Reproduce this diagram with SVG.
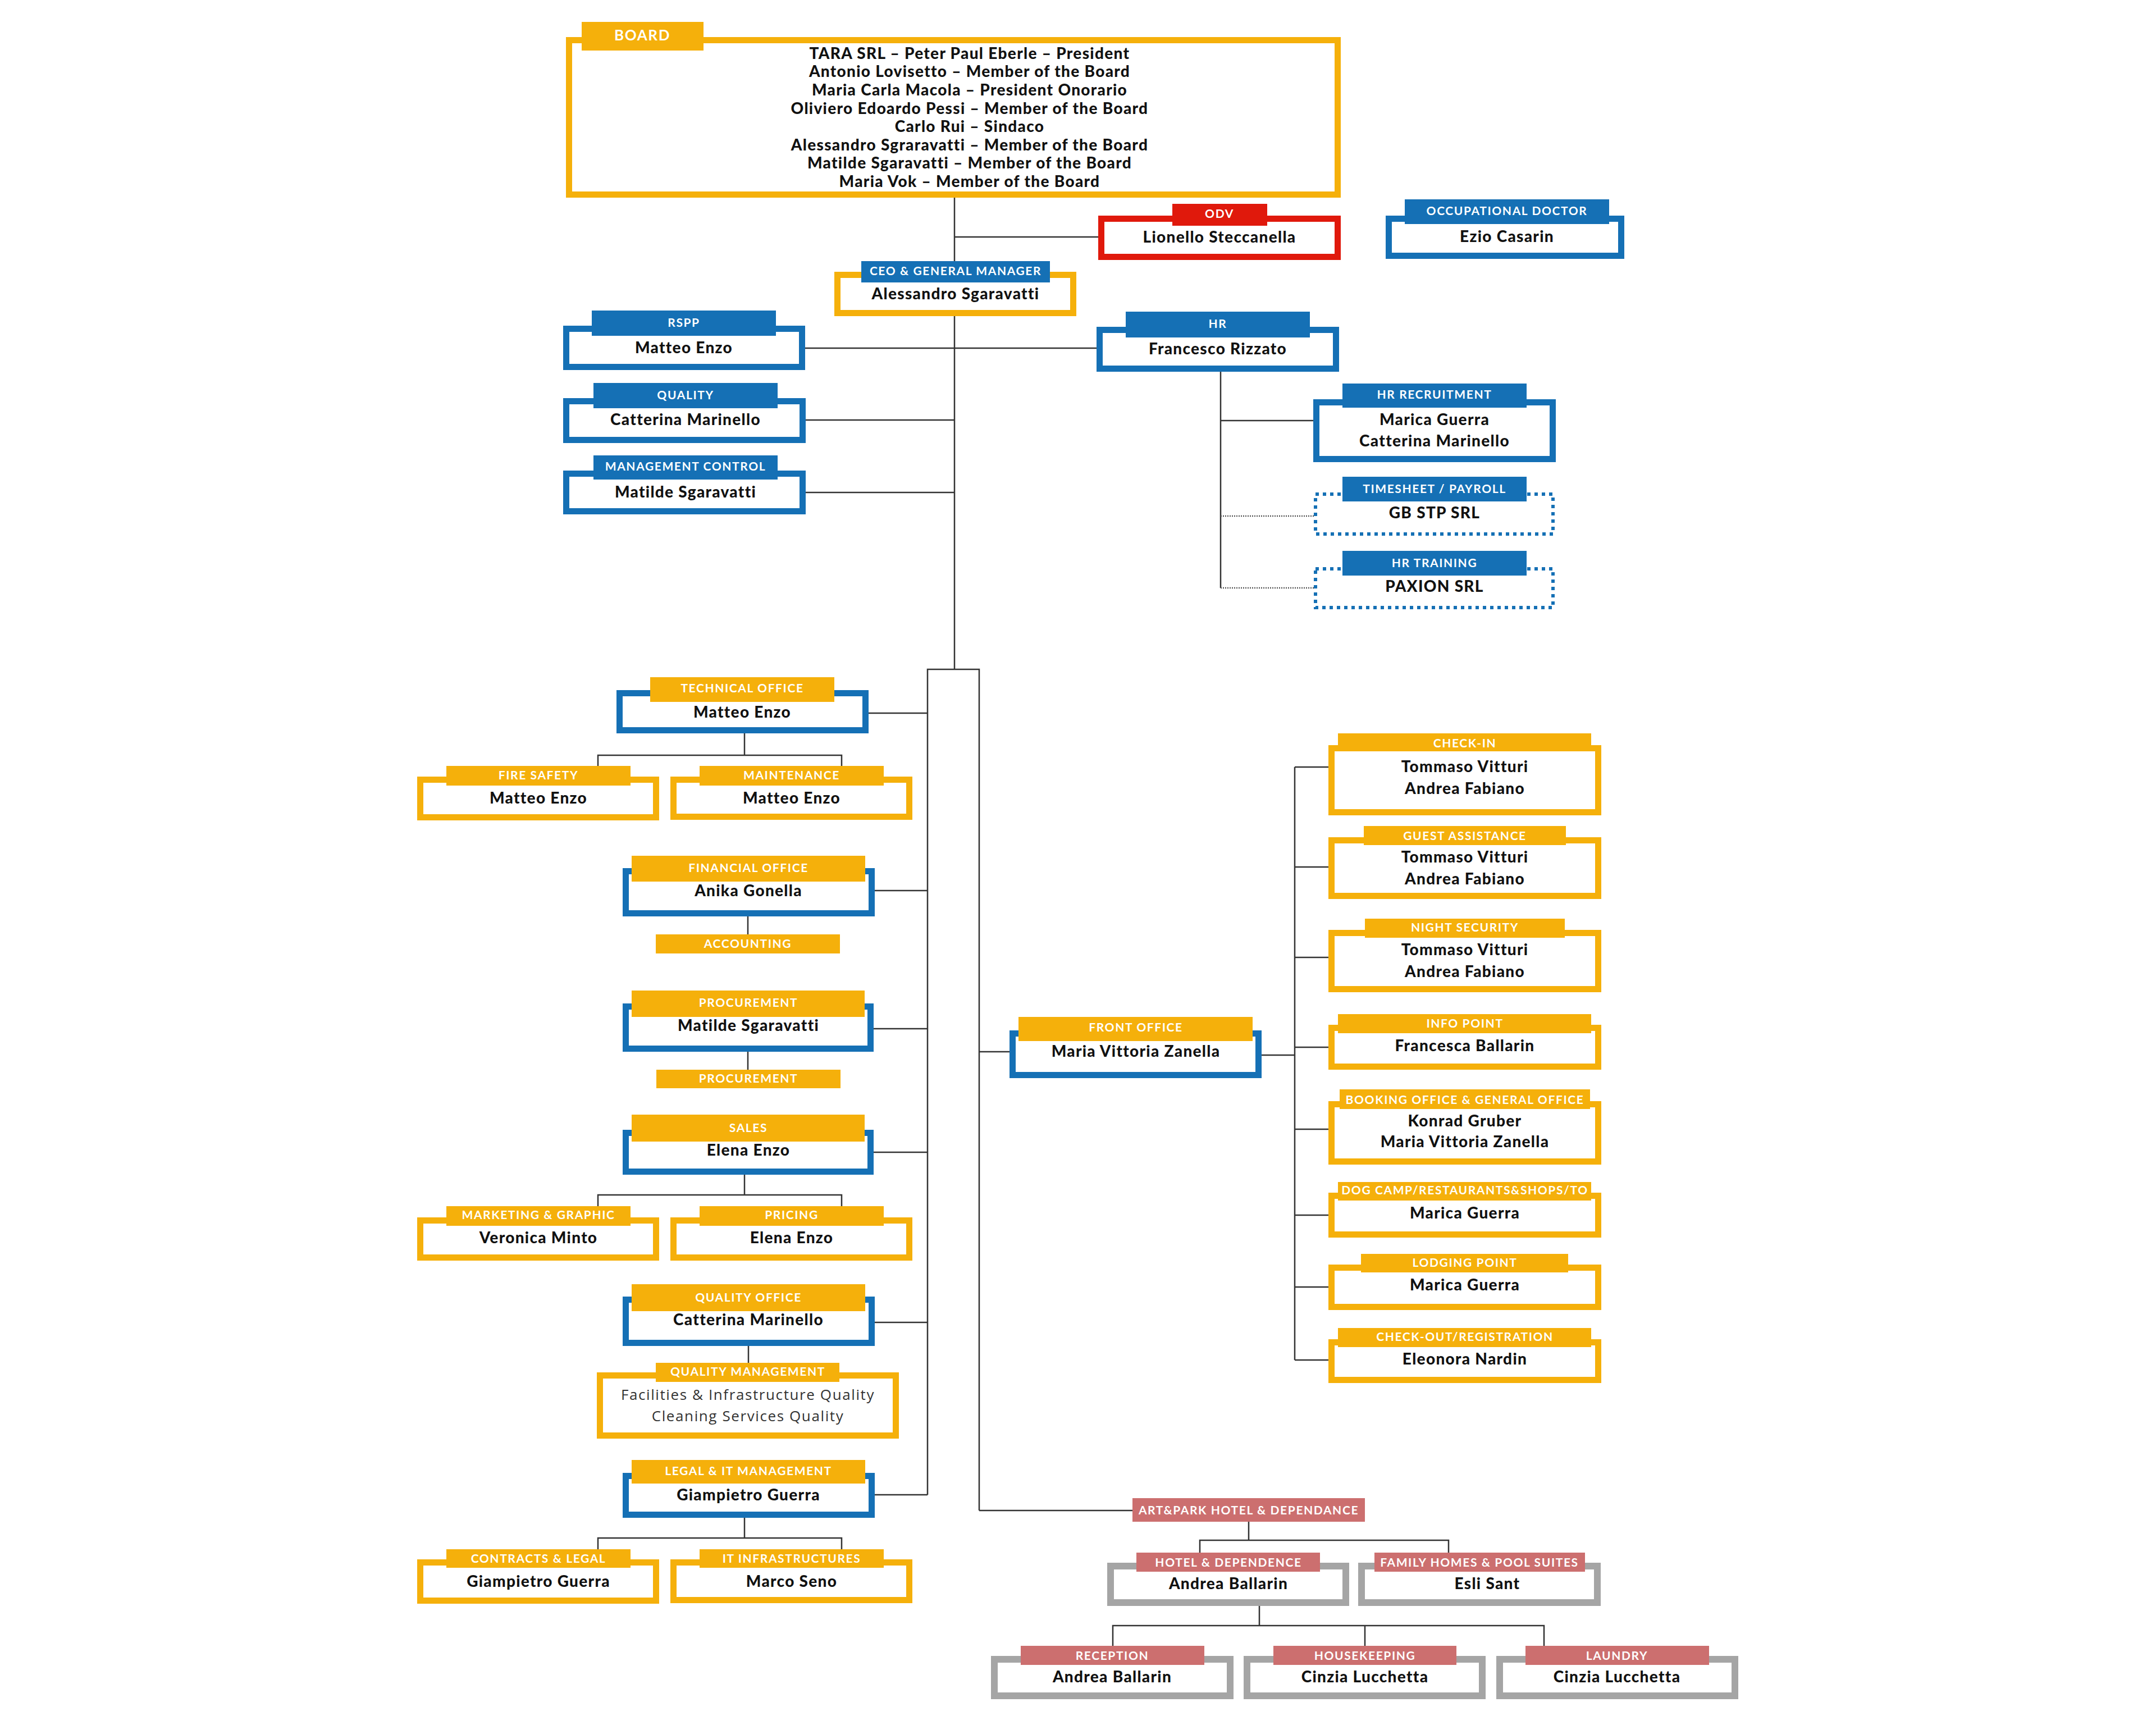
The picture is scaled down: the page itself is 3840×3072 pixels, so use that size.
<svg xmlns="http://www.w3.org/2000/svg" width="3840" height="3072" viewBox="0 0 3840 3072">
<style>
text{font-family:"Lato","Open Sans",sans-serif;text-anchor:middle}
.b{fill:#fff;stroke-width:11}
.by{stroke:#F5B00B}.bb{stroke:#1570B5}.br{stroke:#E0190C}
.bg{stroke:#A5A5A5;stroke-width:12}
.bd{fill:#fff;stroke:#1570B5;stroke-width:6;stroke-dasharray:6 7}
.hy{fill:#F5B00B}.hb{fill:#1570B5}.hr{fill:#E0190C}.hp{fill:#CC6F6F}
.ht{fill:#fff;font-weight:700;font-size:21px;letter-spacing:1.6px}
.nm{fill:#111;font-weight:900;font-size:28px;letter-spacing:1.3px}
.rg{fill:#333;font-family:"Open Sans",sans-serif;font-weight:400;font-size:26px;letter-spacing:1.6px}
.c{fill:none;stroke:#333;stroke-width:2.5}
.cd{fill:none;stroke:#555;stroke-width:2.5;stroke-dasharray:2 2}
</style>
<rect width="3840" height="3072" fill="#fff"/>
<g id="connectors">
<path class="c" d="M1700 352V484M1700 422H1956M1700 563V1192M1434 620H1953M1435 748H1700M1435 877H1700"/>
<path class="c" d="M2174 662V1047M2174 749H2339"/>
<path class="cd" d="M2174 919H2340M2174 1047H2340"/>
<path class="c" d="M1652 2662V1192H1744V2690"/>
<path class="c" d="M1547 1270H1652M1558 1586H1652M1556 1832H1652M1556 2052H1652M1558 2355H1652M1558 2662H1652"/>
<path class="c" d="M1326 1306V1345M1065 1364V1345H1499V1364"/>
<path class="c" d="M1332 1632V1664M1332 1873V1905M1333 2397V2427"/>
<path class="c" d="M1326 2092V2128M1065 2148V2128H1499V2148"/>
<path class="c" d="M1326 2703V2739M1065 2759V2739H1499V2759"/>
<path class="c" d="M1744 1873H1798M2247 1879H2306M2306 1366V2422"/>
<path class="c" d="M2306 1366H2366M2306 1544H2366M2306 1705H2366M2306 1865H2366M2306 2011H2366M2306 2164H2366M2306 2292H2366M2306 2422H2366"/>
<path class="c" d="M1744 2690H2017M2224 2710V2743M2137 2765V2743H2580V2765"/>
<path class="c" d="M2243 2860V2895M1982 2931V2895H2750V2931M2431 2895V2931"/>
</g>
<g id="n-board">
<rect class="b by" x="1013.5" y="71.5" width="1369" height="275"/>
<rect class="hy" x="1036" y="39" width="217" height="51"/>
<text class="ht" style="font-size:26px" x="1144" y="72">BOARD</text>
<text class="nm" x="1727" y="105">TARA SRL – Peter Paul Eberle – President</text>
<text class="nm" x="1727" y="137">Antonio Lovisetto – Member of the Board</text>
<text class="nm" x="1727" y="170">Maria Carla Macola – President Onorario</text>
<text class="nm" x="1727" y="203">Oliviero Edoardo Pessi – Member of the Board</text>
<text class="nm" x="1727" y="235">Carlo Rui – Sindaco</text>
<text class="nm" x="1727" y="268">Alessandro Sgraravatti – Member of the Board</text>
<text class="nm" x="1727" y="300">Matilde Sgaravatti – Member of the Board</text>
<text class="nm" x="1727" y="333">Maria Vok – Member of the Board</text>
</g>
<g id="n-odv">
<rect class="b br" x="1961.5" y="389.5" width="421" height="68"/>
<rect class="hr" x="2088" y="363" width="169" height="39"/>
<text class="ht" x="2172" y="387.5">ODV</text>
<text class="nm" x="2172" y="432">Lionello Steccanella</text>
</g>
<g id="n-occ">
<rect class="b bb" x="2473.5" y="389.5" width="414" height="66"/>
<rect class="hb" x="2502" y="355" width="364" height="44"/>
<text class="ht" x="2684" y="382.5">OCCUPATIONAL DOCTOR</text>
<text class="nm" x="2684" y="431">Ezio Casarin</text>
</g>
<g id="n-ceo">
<rect class="b by" x="1491.5" y="489.5" width="420" height="68"/>
<rect class="hb" x="1534" y="465" width="336" height="38"/>
<text class="ht" x="1702" y="489.5">CEO &amp; GENERAL MANAGER</text>
<text class="nm" x="1702" y="533">Alessandro Sgaravatti</text>
</g>
<g id="n-rspp">
<rect class="b bb" x="1008.5" y="585.5" width="420" height="68"/>
<rect class="hb" x="1054" y="553" width="328" height="45"/>
<text class="ht" x="1218" y="581.5">RSPP</text>
<text class="nm" x="1218" y="629">Matteo Enzo</text>
</g>
<g id="n-hr">
<rect class="b bb" x="1958.5" y="587.5" width="421" height="69"/>
<rect class="hb" x="2005" y="555" width="328" height="46"/>
<text class="ht" x="2169" y="583.5">HR</text>
<text class="nm" x="2169" y="631">Francesco Rizzato</text>
</g>
<g id="n-quality">
<rect class="b bb" x="1008.5" y="714.5" width="421" height="69"/>
<rect class="hb" x="1057" y="682" width="328" height="45"/>
<text class="ht" x="1221" y="710.5">QUALITY</text>
<text class="nm" x="1221" y="757">Catterina Marinello</text>
</g>
<g id="n-mgmt">
<rect class="b bb" x="1008.5" y="843.5" width="421" height="67"/>
<rect class="hb" x="1057" y="811" width="328" height="43"/>
<text class="ht" x="1221" y="837.5">MANAGEMENT CONTROL</text>
<text class="nm" x="1221" y="886">Matilde Sgaravatti</text>
</g>
<g id="n-hrrec">
<rect class="b bb" x="2344.5" y="716.5" width="421" height="101"/>
<rect class="hb" x="2391" y="683" width="328" height="43"/>
<text class="ht" x="2555" y="709.5">HR RECRUITMENT</text>
<text class="nm" x="2555" y="757">Marica Guerra</text>
<text class="nm" x="2555" y="795">Catterina Marinello</text>
</g>
<g id="n-timesheet">
<rect class="bd" x="2343" y="880" width="423" height="71"/>
<rect class="hb" x="2391" y="849" width="328" height="44"/>
<text class="ht" x="2555" y="877.5">TIMESHEET / PAYROLL</text>
<text class="nm" x="2555" y="923">GB STP SRL</text>
</g>
<g id="n-hrtrain">
<rect class="bd" x="2343" y="1013" width="423" height="69"/>
<rect class="hb" x="2391" y="981" width="328" height="44"/>
<text class="ht" x="2555" y="1009.5">HR TRAINING</text>
<text class="nm" x="2555" y="1054">PAXION SRL</text>
</g>
<g id="n-tech">
<rect class="b bb" x="1103.5" y="1234.5" width="438" height="66"/>
<rect class="hy" x="1158" y="1206" width="328" height="44"/>
<text class="ht" x="1322" y="1232.5">TECHNICAL OFFICE</text>
<text class="nm" x="1322" y="1278">Matteo Enzo</text>
</g>
<g id="n-fire">
<rect class="b by" x="748.5" y="1388.5" width="420" height="67"/>
<rect class="hy" x="795" y="1364" width="328" height="35"/>
<text class="ht" x="959" y="1388">FIRE SAFETY</text>
<text class="nm" x="959" y="1431">Matteo Enzo</text>
</g>
<g id="n-maint">
<rect class="b by" x="1199.5" y="1388.5" width="420" height="66"/>
<rect class="hy" x="1246" y="1364" width="328" height="35"/>
<text class="ht" x="1410" y="1388">MAINTENANCE</text>
<text class="nm" x="1410" y="1431">Matteo Enzo</text>
</g>
<g id="n-fin">
<rect class="b bb" x="1114.5" y="1551.5" width="438" height="75"/>
<rect class="hy" x="1125" y="1524" width="416" height="46"/>
<text class="ht" x="1333" y="1552.5">FINANCIAL OFFICE</text>
<text class="nm" x="1333" y="1596">Anika Gonella</text>
</g>
<g id="n-accounting">
<rect class="hy" x="1168" y="1664" width="328" height="34"/>
<text class="ht" x="1332" y="1687.5">ACCOUNTING</text>
</g>
<g id="n-proc">
<rect class="b bb" x="1114.5" y="1792.5" width="436" height="75"/>
<rect class="hy" x="1125" y="1764" width="415" height="47"/>
<text class="ht" x="1333" y="1792.5">PROCUREMENT</text>
<text class="nm" x="1333" y="1836">Matilde Sgaravatti</text>
</g>
<g id="n-proctab">
<rect class="hy" x="1169" y="1905" width="328" height="33"/>
<text class="ht" x="1333" y="1927.5">PROCUREMENT</text>
</g>
<g id="n-sales">
<rect class="b bb" x="1114.5" y="2017.5" width="436" height="69"/>
<rect class="hy" x="1125" y="1985" width="415" height="48"/>
<text class="ht" x="1333" y="2015.5">SALES</text>
<text class="nm" x="1333" y="2058">Elena Enzo</text>
</g>
<g id="n-mkt">
<rect class="b by" x="748.5" y="2173.5" width="420" height="66"/>
<rect class="hy" x="795" y="2148" width="328" height="35"/>
<text class="ht" x="959" y="2170.5">MARKETING &amp; GRAPHIC</text>
<text class="nm" x="959" y="2214">Veronica Minto</text>
</g>
<g id="n-pricing">
<rect class="b by" x="1199.5" y="2173.5" width="420" height="66"/>
<rect class="hy" x="1246" y="2148" width="328" height="35"/>
<text class="ht" x="1410" y="2170.5">PRICING</text>
<text class="nm" x="1410" y="2214">Elena Enzo</text>
</g>
<g id="n-qoffice">
<rect class="b bb" x="1114.5" y="2314.5" width="438" height="77"/>
<rect class="hy" x="1125" y="2287" width="416" height="48"/>
<text class="ht" x="1333" y="2317.5">QUALITY OFFICE</text>
<text class="nm" x="1333" y="2360">Catterina Marinello</text>
</g>
<g id="n-qm">
<rect class="b by" x="1068.5" y="2449.5" width="527" height="107"/>
<rect class="hy" x="1168" y="2427" width="327" height="34"/>
<text class="ht" x="1332" y="2449.5">QUALITY MANAGEMENT</text>
<text class="rg" x="1332" y="2493">Facilities &amp; Infrastructure Quality</text>
<text class="rg" x="1332" y="2531">Cleaning Services Quality</text>
</g>
<g id="n-legal">
<rect class="b bb" x="1114.5" y="2628.5" width="438" height="69"/>
<rect class="hy" x="1125" y="2600" width="416" height="42"/>
<text class="ht" x="1333" y="2626.5">LEGAL &amp; IT MANAGEMENT</text>
<text class="nm" x="1333" y="2672">Giampietro Guerra</text>
</g>
<g id="n-contracts">
<rect class="b by" x="748.5" y="2782.5" width="420" height="68"/>
<rect class="hy" x="795" y="2759" width="328" height="33"/>
<text class="ht" x="959" y="2782.5">CONTRACTS &amp; LEGAL</text>
<text class="nm" x="959" y="2826">Giampietro Guerra</text>
</g>
<g id="n-itinfra">
<rect class="b by" x="1199.5" y="2782.5" width="420" height="67"/>
<rect class="hy" x="1246" y="2759" width="328" height="33"/>
<text class="ht" x="1410" y="2782.5">IT INFRASTRUCTURES</text>
<text class="nm" x="1410" y="2826">Marco Seno</text>
</g>
<g id="n-front">
<rect class="b bb" x="1803.5" y="1840.5" width="438" height="74"/>
<rect class="hy" x="1814" y="1811" width="417" height="43"/>
<text class="ht" x="2023" y="1836.5">FRONT OFFICE</text>
<text class="nm" x="2023" y="1882">Maria Vittoria Zanella</text>
</g>
<g id="n-checkin">
<rect class="b by" x="2371.5" y="1332.5" width="475" height="114"/>
<rect class="hy" x="2383" y="1306" width="451" height="32"/>
<text class="ht" x="2609" y="1330.5">CHECK-IN</text>
<text class="nm" x="2609" y="1375">Tommaso Vitturi</text>
<text class="nm" x="2609" y="1414">Andrea Fabiano</text>
</g>
<g id="n-guest">
<rect class="b by" x="2371.5" y="1496.5" width="475" height="99"/>
<rect class="hy" x="2429" y="1471" width="360" height="34"/>
<text class="ht" x="2609" y="1495.5">GUEST ASSISTANCE</text>
<text class="nm" x="2609" y="1536">Tommaso Vitturi</text>
<text class="nm" x="2609" y="1575">Andrea Fabiano</text>
</g>
<g id="n-night">
<rect class="b by" x="2371.5" y="1661.5" width="475" height="100"/>
<rect class="hy" x="2431" y="1636" width="356" height="34"/>
<text class="ht" x="2609" y="1658.5">NIGHT SECURITY</text>
<text class="nm" x="2609" y="1701">Tommaso Vitturi</text>
<text class="nm" x="2609" y="1740">Andrea Fabiano</text>
</g>
<g id="n-info">
<rect class="b by" x="2371.5" y="1830.5" width="475" height="69"/>
<rect class="hy" x="2383" y="1806" width="451" height="34"/>
<text class="ht" x="2609" y="1829.5">INFO POINT</text>
<text class="nm" x="2609" y="1872">Francesca Ballarin</text>
</g>
<g id="n-booking">
<rect class="b by" x="2371.5" y="1966.5" width="475" height="102"/>
<rect class="hy" x="2386" y="1940" width="446" height="35"/>
<text class="ht" x="2609" y="1965.5">BOOKING OFFICE &amp; GENERAL OFFICE</text>
<text class="nm" x="2609" y="2006">Konrad Gruber</text>
<text class="nm" x="2609" y="2043">Maria Vittoria Zanella</text>
</g>
<g id="n-dog">
<rect class="b by" x="2371.5" y="2129.5" width="475" height="69"/>
<rect class="hy" x="2383" y="2105" width="451" height="33"/>
<text class="ht" x="2609" y="2126.5">DOG CAMP/RESTAURANTS&amp;SHOPS/TO</text>
<text class="nm" x="2609" y="2170">Marica Guerra</text>
</g>
<g id="n-lodging">
<rect class="b by" x="2371.5" y="2257.5" width="475" height="70"/>
<rect class="hy" x="2424" y="2233" width="369" height="33"/>
<text class="ht" x="2609" y="2255.5">LODGING POINT</text>
<text class="nm" x="2609" y="2298">Marica Guerra</text>
</g>
<g id="n-checkout">
<rect class="b by" x="2371.5" y="2390.5" width="475" height="67"/>
<rect class="hy" x="2383" y="2365" width="451" height="34"/>
<text class="ht" x="2609" y="2387.5">CHECK-OUT/REGISTRATION</text>
<text class="nm" x="2609" y="2430">Eleonora Nardin</text>
</g>
<g id="n-artpark">
<rect class="hp" x="2017" y="2668" width="414" height="42"/>
<text class="ht" x="2224" y="2696.5">ART&amp;PARK HOTEL &amp; DEPENDANCE</text>
</g>
<g id="n-hotel">
<rect class="b bg" x="1978" y="2789" width="419" height="65"/>
<rect class="hp" x="2024" y="2765" width="327" height="34"/>
<text class="ht" x="2188" y="2789.5">HOTEL &amp; DEPENDENCE</text>
<text class="nm" x="2188" y="2830">Andrea Ballarin</text>
</g>
<g id="n-family">
<rect class="b bg" x="2425" y="2789" width="420" height="65"/>
<rect class="hp" x="2448" y="2765" width="375" height="34"/>
<text class="ht" x="2635" y="2789.5">FAMILY HOMES &amp; POOL SUITES</text>
<text class="nm" x="2649" y="2830">Esli Sant</text>
</g>
<g id="n-reception">
<rect class="b bg" x="1771" y="2955" width="420" height="65"/>
<rect class="hp" x="1818" y="2931" width="327" height="34"/>
<text class="ht" x="1981" y="2955.5">RECEPTION</text>
<text class="nm" x="1981" y="2996">Andrea Ballarin</text>
</g>
<g id="n-housekeeping">
<rect class="b bg" x="2221" y="2955" width="419" height="65"/>
<rect class="hp" x="2268" y="2931" width="326" height="34"/>
<text class="ht" x="2431" y="2955.5">HOUSEKEEPING</text>
<text class="nm" x="2431" y="2996">Cinzia Lucchetta</text>
</g>
<g id="n-laundry">
<rect class="b bg" x="2671" y="2955" width="419" height="65"/>
<rect class="hp" x="2717" y="2931" width="327" height="34"/>
<text class="ht" x="2880" y="2955.5">LAUNDRY</text>
<text class="nm" x="2880" y="2996">Cinzia Lucchetta</text>
</g>
</svg>
